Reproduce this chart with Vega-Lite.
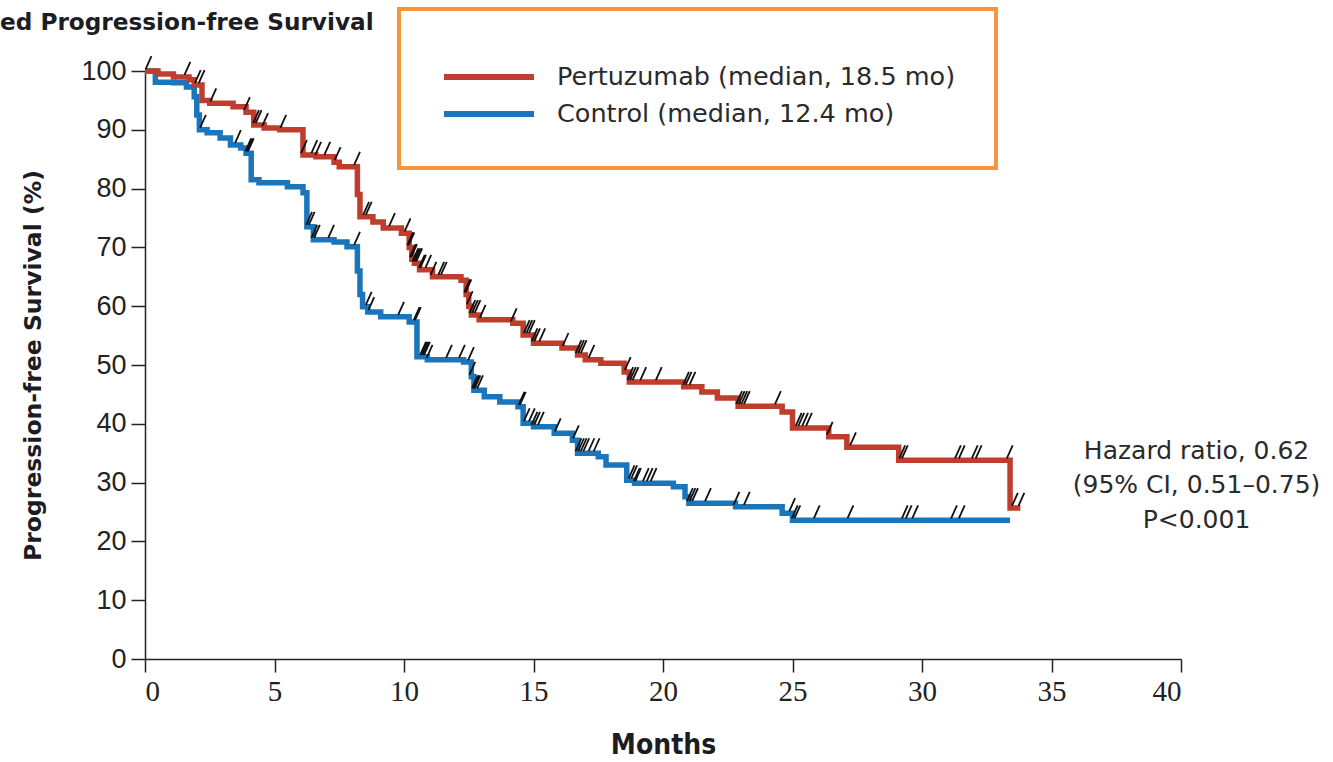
{
  "$schema": "https://vega.github.io/schema/vega-lite/v6.json",
  "width": 1036,
  "height": 588,
  "autosize": {"type": "none"},
  "padding": {"left": 145, "top": 71, "right": 152, "bottom": 103},
  "background": "white",
  "config": {"view": {"stroke": null}, "font": "DejaVu Sans"},
  "title": {
    "text": "ed Progression-free Survival",
    "anchor": "start",
    "frame": "group",
    "dx": -145,
    "offset": 2,
    "dy": 30,
    "fontSize": 23.2,
    "fontWeight": "bold",
    "font": "DejaVu Sans",
    "color": "#1c1c24"
  },
  "datasets": {
    "steps": [
      {"arm": "Control", "month": 0, "surv": 100},
      {"arm": "Control", "month": 0.4, "surv": 98.1},
      {"arm": "Control", "month": 1.1, "surv": 98},
      {"arm": "Control", "month": 1.6, "surv": 97.3},
      {"arm": "Control", "month": 1.9, "surv": 95.6},
      {"arm": "Control", "month": 2.0, "surv": 92.5},
      {"arm": "Control", "month": 2.1, "surv": 90},
      {"arm": "Control", "month": 2.4, "surv": 89.5},
      {"arm": "Control", "month": 2.9, "surv": 88.6},
      {"arm": "Control", "month": 3.3, "surv": 87.4},
      {"arm": "Control", "month": 3.7, "surv": 86.9},
      {"arm": "Control", "month": 3.9, "surv": 86},
      {"arm": "Control", "month": 4.1, "surv": 81.5},
      {"arm": "Control", "month": 4.4, "surv": 81},
      {"arm": "Control", "month": 5.5, "surv": 80.3},
      {"arm": "Control", "month": 6.1, "surv": 79.3},
      {"arm": "Control", "month": 6.25, "surv": 73.5},
      {"arm": "Control", "month": 6.5, "surv": 71.3},
      {"arm": "Control", "month": 7.3, "surv": 70.9},
      {"arm": "Control", "month": 7.8, "surv": 70.1},
      {"arm": "Control", "month": 8.2, "surv": 66},
      {"arm": "Control", "month": 8.3, "surv": 62},
      {"arm": "Control", "month": 8.4, "surv": 59.9},
      {"arm": "Control", "month": 8.6, "surv": 59},
      {"arm": "Control", "month": 9.1, "surv": 58.2},
      {"arm": "Control", "month": 10.2, "surv": 57.3},
      {"arm": "Control", "month": 10.5, "surv": 51.4},
      {"arm": "Control", "month": 10.9, "surv": 50.9},
      {"arm": "Control", "month": 12.3, "surv": 50.5},
      {"arm": "Control", "month": 12.6, "surv": 48},
      {"arm": "Control", "month": 12.7, "surv": 45.7},
      {"arm": "Control", "month": 13.1, "surv": 44.6},
      {"arm": "Control", "month": 13.7, "surv": 43.7},
      {"arm": "Control", "month": 14.4, "surv": 42.9},
      {"arm": "Control", "month": 14.6, "surv": 40.1},
      {"arm": "Control", "month": 15.0, "surv": 39.5},
      {"arm": "Control", "month": 15.8, "surv": 38.4},
      {"arm": "Control", "month": 16.5, "surv": 37.2},
      {"arm": "Control", "month": 16.7, "surv": 35},
      {"arm": "Control", "month": 17.5, "surv": 34.4},
      {"arm": "Control", "month": 17.8, "surv": 33},
      {"arm": "Control", "month": 18.6, "surv": 30.4},
      {"arm": "Control", "month": 18.9, "surv": 29.9},
      {"arm": "Control", "month": 20.4, "surv": 29.3},
      {"arm": "Control", "month": 20.85, "surv": 27.6},
      {"arm": "Control", "month": 21.0, "surv": 26.5},
      {"arm": "Control", "month": 22.8, "surv": 25.9},
      {"arm": "Control", "month": 24.6, "surv": 24.8},
      {"arm": "Control", "month": 25.0, "surv": 23.6},
      {"arm": "Control", "month": 33.4, "surv": 23.6},
      {"arm": "Pertuzumab", "month": 0, "surv": 100},
      {"arm": "Pertuzumab", "month": 0.5, "surv": 99.5},
      {"arm": "Pertuzumab", "month": 1.1, "surv": 99},
      {"arm": "Pertuzumab", "month": 1.7, "surv": 98.5},
      {"arm": "Pertuzumab", "month": 1.9, "surv": 97.6},
      {"arm": "Pertuzumab", "month": 2.2, "surv": 95},
      {"arm": "Pertuzumab", "month": 2.5, "surv": 94.5},
      {"arm": "Pertuzumab", "month": 3.4, "surv": 93.9},
      {"arm": "Pertuzumab", "month": 3.9, "surv": 93},
      {"arm": "Pertuzumab", "month": 4.2, "surv": 90.8},
      {"arm": "Pertuzumab", "month": 4.6, "surv": 90.3},
      {"arm": "Pertuzumab", "month": 5.2, "surv": 90},
      {"arm": "Pertuzumab", "month": 6.1, "surv": 85.7},
      {"arm": "Pertuzumab", "month": 6.6, "surv": 85.4},
      {"arm": "Pertuzumab", "month": 7.3, "surv": 84.5},
      {"arm": "Pertuzumab", "month": 7.5, "surv": 83.7},
      {"arm": "Pertuzumab", "month": 8.2, "surv": 79},
      {"arm": "Pertuzumab", "month": 8.3, "surv": 75.2},
      {"arm": "Pertuzumab", "month": 8.8, "surv": 74.3},
      {"arm": "Pertuzumab", "month": 9.2, "surv": 73.3},
      {"arm": "Pertuzumab", "month": 9.9, "surv": 72.4},
      {"arm": "Pertuzumab", "month": 10.2, "surv": 70},
      {"arm": "Pertuzumab", "month": 10.3, "surv": 68},
      {"arm": "Pertuzumab", "month": 10.4, "surv": 67.3},
      {"arm": "Pertuzumab", "month": 10.6, "surv": 66.2},
      {"arm": "Pertuzumab", "month": 11.1, "surv": 65},
      {"arm": "Pertuzumab", "month": 12.2, "surv": 64.4},
      {"arm": "Pertuzumab", "month": 12.4, "surv": 62},
      {"arm": "Pertuzumab", "month": 12.5, "surv": 60},
      {"arm": "Pertuzumab", "month": 12.6, "surv": 58.5},
      {"arm": "Pertuzumab", "month": 12.9, "surv": 57.7},
      {"arm": "Pertuzumab", "month": 14.2, "surv": 57.1},
      {"arm": "Pertuzumab", "month": 14.6, "surv": 55.1},
      {"arm": "Pertuzumab", "month": 15.0, "surv": 53.7},
      {"arm": "Pertuzumab", "month": 16.1, "surv": 52.9},
      {"arm": "Pertuzumab", "month": 16.7, "surv": 51.7},
      {"arm": "Pertuzumab", "month": 17.0, "surv": 50.9},
      {"arm": "Pertuzumab", "month": 17.6, "surv": 50.3},
      {"arm": "Pertuzumab", "month": 18.5, "surv": 48.8},
      {"arm": "Pertuzumab", "month": 18.7, "surv": 47.1},
      {"arm": "Pertuzumab", "month": 20.8, "surv": 46.3},
      {"arm": "Pertuzumab", "month": 21.5, "surv": 45.4},
      {"arm": "Pertuzumab", "month": 22.1, "surv": 44.4},
      {"arm": "Pertuzumab", "month": 22.9, "surv": 43},
      {"arm": "Pertuzumab", "month": 24.6, "surv": 42},
      {"arm": "Pertuzumab", "month": 25.0, "surv": 39.3},
      {"arm": "Pertuzumab", "month": 26.4, "surv": 37.8},
      {"arm": "Pertuzumab", "month": 27.1, "surv": 36},
      {"arm": "Pertuzumab", "month": 29.1, "surv": 33.8},
      {"arm": "Pertuzumab", "month": 33.4, "surv": 25.7},
      {"arm": "Pertuzumab", "month": 33.8, "surv": 25.7}
    ],
    "censored": [
      {"month": 0.1, "surv": 100}, {"month": 1.6, "surv": 99}, {"month": 2.0, "surv": 97.6},
      {"month": 2.15, "surv": 97.6}, {"month": 2.6, "surv": 94.5}, {"month": 3.9, "surv": 93},
      {"month": 4.25, "surv": 90.8}, {"month": 4.35, "surv": 90.8}, {"month": 4.6, "surv": 90.3},
      {"month": 5.3, "surv": 90}, {"month": 6.1, "surv": 85.7}, {"month": 6.5, "surv": 85.7},
      {"month": 6.65, "surv": 85.4}, {"month": 7.0, "surv": 85.4}, {"month": 7.4, "surv": 84.5},
      {"month": 8.15, "surv": 83.7}, {"month": 8.5, "surv": 75.2}, {"month": 8.6, "surv": 75.2},
      {"month": 9.5, "surv": 73.3}, {"month": 10.1, "surv": 72.4}, {"month": 10.2, "surv": 70},
      {"month": 10.25, "surv": 70}, {"month": 10.3, "surv": 68}, {"month": 10.35, "surv": 68},
      {"month": 10.4, "surv": 67.3}, {"month": 10.45, "surv": 67.3}, {"month": 10.5, "surv": 67.3},
      {"month": 10.55, "surv": 67.3}, {"month": 10.65, "surv": 66.2}, {"month": 10.7, "surv": 66.2},
      {"month": 10.9, "surv": 66.2}, {"month": 11.1, "surv": 65}, {"month": 11.4, "surv": 65},
      {"month": 11.5, "surv": 65}, {"month": 12.4, "surv": 62}, {"month": 12.45, "surv": 62},
      {"month": 12.5, "surv": 60}, {"month": 12.6, "surv": 58.5}, {"month": 12.7, "surv": 58.5},
      {"month": 12.8, "surv": 58.5}, {"month": 13.0, "surv": 57.7}, {"month": 14.2, "surv": 57.1},
      {"month": 14.7, "surv": 55.1}, {"month": 14.8, "surv": 55.1}, {"month": 14.9, "surv": 55.1},
      {"month": 15.0, "surv": 53.7}, {"month": 15.1, "surv": 53.7}, {"month": 15.3, "surv": 53.7},
      {"month": 16.2, "surv": 52.9}, {"month": 16.7, "surv": 51.7}, {"month": 16.8, "surv": 51.7},
      {"month": 16.9, "surv": 51.7}, {"month": 17.2, "surv": 50.9}, {"month": 18.6, "surv": 48.8},
      {"month": 18.7, "surv": 47.1}, {"month": 18.8, "surv": 47.1}, {"month": 18.9, "surv": 47.1},
      {"month": 19.2, "surv": 47.1}, {"month": 19.8, "surv": 47.1}, {"month": 20.85, "surv": 46.3},
      {"month": 20.95, "surv": 46.3}, {"month": 21.1, "surv": 46.3}, {"month": 22.9, "surv": 43},
      {"month": 23.0, "surv": 43}, {"month": 23.1, "surv": 43}, {"month": 23.2, "surv": 43},
      {"month": 24.4, "surv": 43}, {"month": 25.2, "surv": 39.3}, {"month": 25.3, "surv": 39.3},
      {"month": 25.45, "surv": 39.3}, {"month": 25.6, "surv": 39.3}, {"month": 26.4, "surv": 37.8},
      {"month": 27.3, "surv": 36}, {"month": 29.2, "surv": 33.8}, {"month": 29.3, "surv": 33.8},
      {"month": 31.35, "surv": 33.8}, {"month": 31.5, "surv": 33.8}, {"month": 32.0, "surv": 33.8},
      {"month": 32.15, "surv": 33.8}, {"month": 33.35, "surv": 33.8}, {"month": 33.55, "surv": 25.7},
      {"month": 33.8, "surv": 25.7},
      {"month": 2.2, "surv": 90}, {"month": 3.55, "surv": 87.4}, {"month": 3.95, "surv": 86},
      {"month": 4.0, "surv": 86}, {"month": 4.05, "surv": 86}, {"month": 6.3, "surv": 73.5},
      {"month": 6.4, "surv": 73.5}, {"month": 6.5, "surv": 71.3}, {"month": 6.6, "surv": 71.3},
      {"month": 7.15, "surv": 71.3}, {"month": 8.15, "surv": 70.1}, {"month": 8.6, "surv": 59.9},
      {"month": 8.7, "surv": 59}, {"month": 9.85, "surv": 58.2}, {"month": 10.45, "surv": 57.3},
      {"month": 10.5, "surv": 57.3}, {"month": 10.7, "surv": 51.4}, {"month": 10.75, "surv": 51.4},
      {"month": 10.8, "surv": 51.4}, {"month": 10.85, "surv": 51.4}, {"month": 10.95, "surv": 50.9},
      {"month": 11.7, "surv": 50.9}, {"month": 12.2, "surv": 50.9}, {"month": 12.55, "surv": 50.5},
      {"month": 12.6, "surv": 48}, {"month": 12.7, "surv": 45.7}, {"month": 12.75, "surv": 45.7},
      {"month": 12.8, "surv": 45.7}, {"month": 12.9, "surv": 45.7}, {"month": 14.5, "surv": 42.9},
      {"month": 14.55, "surv": 42.9}, {"month": 14.7, "surv": 40.1}, {"month": 14.9, "surv": 40.1},
      {"month": 15.0, "surv": 39.5}, {"month": 15.1, "surv": 39.5}, {"month": 15.25, "surv": 39.5},
      {"month": 15.9, "surv": 38.4}, {"month": 16.6, "surv": 37.2}, {"month": 16.7, "surv": 35},
      {"month": 16.8, "surv": 35}, {"month": 16.9, "surv": 35}, {"month": 17.0, "surv": 35},
      {"month": 17.2, "surv": 35}, {"month": 17.4, "surv": 35}, {"month": 18.75, "surv": 30.4},
      {"month": 18.85, "surv": 30.4}, {"month": 18.95, "surv": 29.9}, {"month": 19.0, "surv": 29.9},
      {"month": 19.3, "surv": 29.9}, {"month": 19.45, "surv": 29.9}, {"month": 19.6, "surv": 29.9},
      {"month": 21.0, "surv": 26.5}, {"month": 21.1, "surv": 26.5}, {"month": 21.2, "surv": 26.5},
      {"month": 21.7, "surv": 26.5}, {"month": 22.8, "surv": 25.9}, {"month": 23.2, "surv": 25.9},
      {"month": 24.95, "surv": 24.8}, {"month": 25.05, "surv": 23.6}, {"month": 25.15, "surv": 23.6},
      {"month": 25.9, "surv": 23.6}, {"month": 27.2, "surv": 23.6}, {"month": 29.3, "surv": 23.6},
      {"month": 29.45, "surv": 23.6}, {"month": 29.7, "surv": 23.6}, {"month": 31.2, "surv": 23.6},
      {"month": 31.5, "surv": 23.6}
    ],
    "notes": [
      {"month": 40.6, "surv": 35.4, "text": "Hazard ratio, 0.62"},
      {"month": 40.6, "surv": 29.6, "text": "(95% CI, 0.51–0.75)"},
      {"month": 40.6, "surv": 23.6, "text": "P<0.001"}
    ]
  },
  "layer": [
    {
      "data": {"name": "steps"},
      "mark": {"type": "line", "interpolate": "step-after", "strokeWidth": 5.5, "clip": false},
      "encoding": {
        "x": {
          "field": "month",
          "type": "quantitative",
          "scale": {"domain": [0, 40], "nice": false},
          "axis": {
            "values": [0, 5, 10, 15, 20, 25, 30, 35, 40],
            "title": "Months",
            "grid": false,
            "domainColor": "#222222",
            "domainWidth": 1.5,
            "tickColor": "#222222",
            "tickWidth": 1.5,
            "tickSize": 13,
            "labelFont": "Liberation Sans Narrow",
            "labelFontSize": 29,
            "labelColor": "#222222",
            "labelPadding": 5,
            "titleFont": "DejaVu Sans Condensed",
            "titleFontSize": 28,
            "titleFontWeight": "bold",
            "titleColor": "#1c1c24",
            "titlePadding": 25
          }
        },
        "y": {
          "field": "surv",
          "type": "quantitative",
          "scale": {"domain": [0, 100], "nice": false},
          "axis": {
            "values": [0, 10, 20, 30, 40, 50, 60, 70, 80, 90, 100],
            "title": "Progression-free Survival (%)",
            "grid": false,
            "domainColor": "#222222",
            "domainWidth": 1.5,
            "tickColor": "#222222",
            "tickWidth": 1.5,
            "tickSize": 14,
            "labelFont": "Liberation Sans",
            "labelFontSize": 27,
            "labelColor": "#222222",
            "labelPadding": 5,
            "titleFont": "DejaVu Sans",
            "titleFontSize": 23.5,
            "titleFontWeight": "bold",
            "titleColor": "#1c1c24",
            "titlePadding": 35
          }
        },
        "color": {
          "field": "arm",
          "type": "nominal",
          "scale": {"domain": ["Pertuzumab", "Control"], "range": ["#BE3D2D", "#1B75BA"]},
          "legend": {
            "orient": "none",
            "legendX": 254,
            "legendY": -62,
            "title": " ",
            "titleFontSize": 10,
            "titlePadding": 0,
            "symbolType": "M -3 0 L 3 0",
            "symbolStrokeWidth": 6,
            "symbolSize": 900,
            "symbolOffset": 32,
            "labelFont": "DejaVu Sans",
            "labelFontSize": 25.5,
            "labelColor": "#2a2a2a",
            "labelLimit": 600,
            "labelOffset": 50,
            "rowPadding": 5,
            "padding": 40,
            "strokeColor": "#F7943D",
            "labelExpr": "datum.label == 'Pertuzumab' ? 'Pertuzumab (median, 18.5 mo)' : 'Control (median, 12.4 mo)'",
            "encode": {"legend": {"update": {"strokeWidth": {"value": 4}}}}
          }
        }
      }
    },
    {
      "data": {"name": "censored"},
      "mark": {
        "type": "point",
        "shape": "M -0.15 -0.15 L 0.3 -1.15",
        "filled": false,
        "stroke": "#111111",
        "strokeWidth": 1.8,
        "size": 676,
        "opacity": 1,
        "clip": false
      },
      "encoding": {
        "x": {"field": "month", "type": "quantitative"},
        "y": {"field": "surv", "type": "quantitative"}
      }
    },
    {
      "data": {"name": "notes"},
      "mark": {
        "type": "text",
        "font": "DejaVu Sans",
        "fontSize": 25,
        "color": "#2a2a2a",
        "align": "center",
        "baseline": "middle",
        "clip": false
      },
      "encoding": {
        "x": {"field": "month", "type": "quantitative"},
        "y": {"field": "surv", "type": "quantitative"},
        "text": {"field": "text"}
      }
    }
  ]
}
